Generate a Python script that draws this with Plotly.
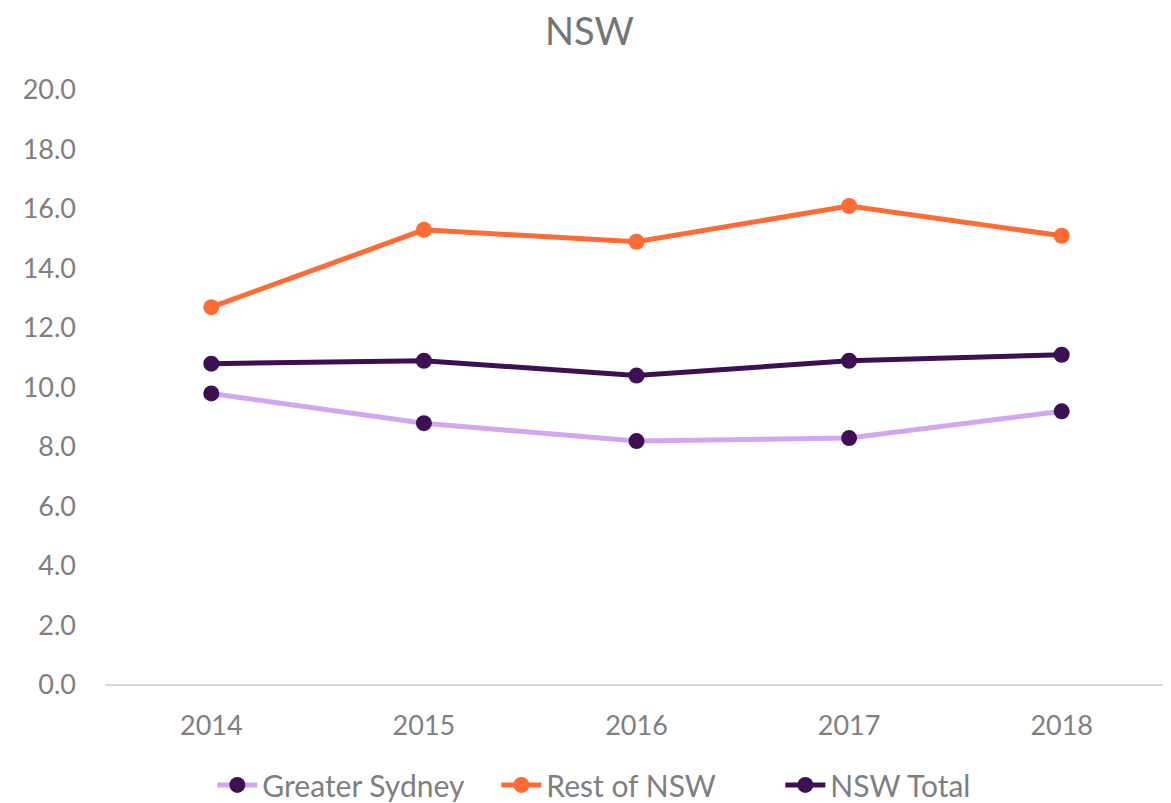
import plotly.graph_objects as go

years = ['2014', '2015', '2016', '2017', '2018']
greater_sydney = [9.8, 8.8, 8.2, 8.3, 9.2]
rest_of_nsw = [12.7, 15.3, 14.9, 16.1, 15.1]
nsw_total = [10.8, 10.9, 10.4, 10.9, 11.1]

dark_purple = '#3C1053'

fig = go.Figure()
fig.add_trace(go.Scatter(x=years, y=greater_sydney, name='Greater Sydney',
                         mode='lines+markers',
                         line={'color': '#D5A6F0', 'width': 5},
                         marker={'color': dark_purple, 'size': 16}))
fig.add_trace(go.Scatter(x=years, y=rest_of_nsw, name='Rest of NSW',
                         mode='lines+markers',
                         line={'color': '#FF6B35', 'width': 5},
                         marker={'color': '#FF6B35', 'size': 16}))
fig.add_trace(go.Scatter(x=years, y=nsw_total, name='NSW Total',
                         mode='lines+markers',
                         line={'color': dark_purple, 'width': 5},
                         marker={'color': dark_purple, 'size': 16}))

# page body has an 8px margin, so the figure is sized/offset to compensate
fig.update_layout(width=1163, height=795,
                  paper_bgcolor='white', plot_bgcolor='white',
                  font={'family': 'Lato', 'size': 27, 'color': '#7F7F7F'},
                  title={'text': 'NSW', 'x': 0.5, 'xanchor': 'center', 'y': 0.97, 'yanchor': 'middle',
                         'font': {'size': 38, 'color': '#757575'}},
                  margin={'l': 97, 'r': 3, 't': 82, 'b': 118, 'autoexpand': False},
                  legend={'orientation': 'h', 'xref': 'container', 'x': 0.542, 'xanchor': 'center',
                          'y': -0.168, 'yanchor': 'middle',
                          'font': {'size': 30, 'color': '#7F7F7F'},
                          'itemwidth': 40, 'entrywidth': 229},
                  showlegend=True)
fig.update_xaxes(type='category', range=[-0.5, 4.5], showgrid=False, automargin=False,
                 showline=False, ticks='', ticklabelstandoff=22, tickfont={'size': 27})
fig.update_yaxes(range=[0, 20], dtick=2, tickformat='.1f', showgrid=False, automargin=False,
                 zeroline=True, zerolinecolor='#D9D9D9', zerolinewidth=1.5,
                 ticklabelstandoff=28, tickfont={'size': 27})

fig.write_html('out.html')
